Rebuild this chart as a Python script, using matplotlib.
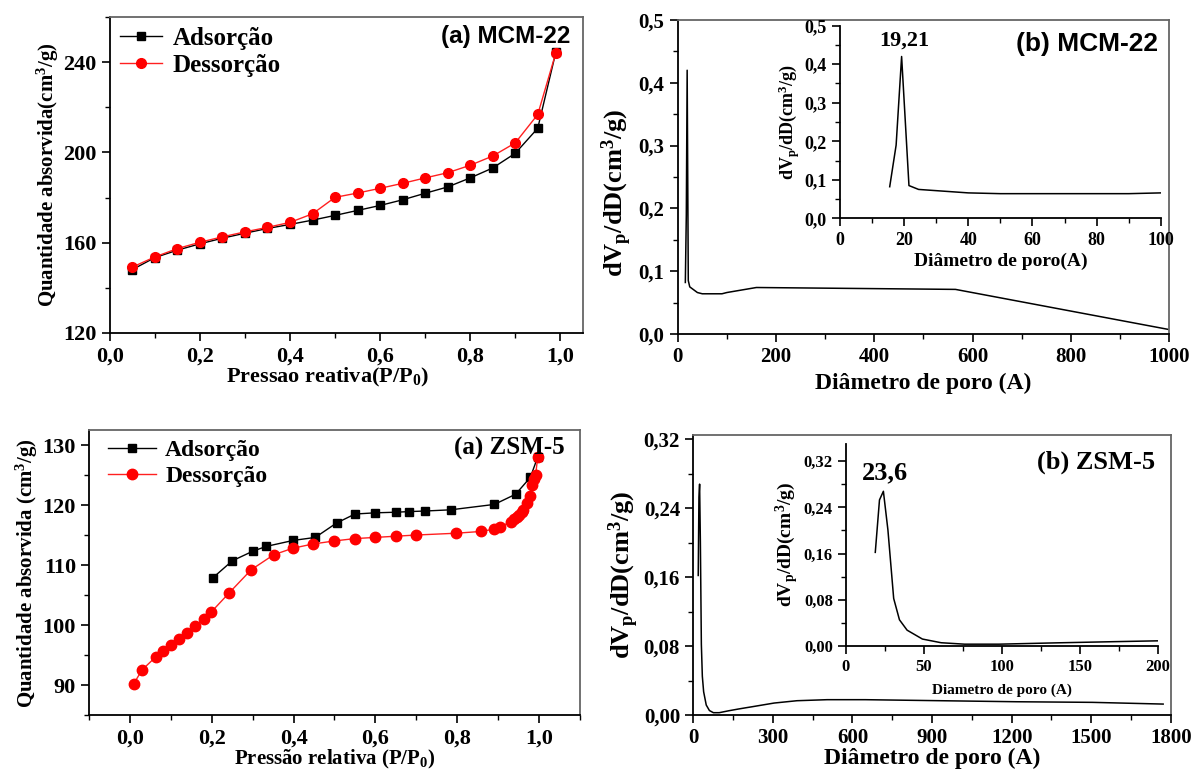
import matplotlib
matplotlib.use('Agg')
import matplotlib.pyplot as plt
from matplotlib.ticker import MultipleLocator, FuncFormatter

plt.rcParams['font.family'] = 'Liberation Serif'
plt.rcParams['font.weight'] = 'bold'
plt.rcParams['axes.labelweight'] = 'bold'
plt.rcParams['mathtext.default'] = 'regular'

# MCM-22 isotherm
mcm_p = [0.05, 0.10, 0.15, 0.20, 0.25, 0.30, 0.35, 0.40, 0.45, 0.50,
         0.55, 0.60, 0.65, 0.70, 0.75, 0.80, 0.85, 0.90, 0.95, 0.99]
mcm_ads = [148.1, 153.4, 156.7, 159.5, 162.0, 164.2, 166.3, 168.1, 170.0, 172.1,
           174.3, 176.5, 179.0, 181.9, 184.7, 188.7, 193.1, 199.6, 210.7, 244.3]
mcm_des = [149.2, 153.7, 157.4, 160.2, 162.6, 164.8, 166.8, 169.0, 172.8, 180.1,
           182.0, 184.1, 186.3, 188.7, 191.0, 194.3, 198.4, 204.2, 216.8, 244.0]

# MCM-22 pore size distribution
mcm_d = [15.5, 17.5, 19.21, 21.5, 24.5, 40, 50, 60, 90, 100, 160, 565, 1000]
mcm_dv = [0.082, 0.19, 0.42, 0.085, 0.075, 0.066, 0.064, 0.064, 0.064, 0.066, 0.074, 0.071, 0.007]

# ZSM-5 isotherm
zsm_p_ads = [0.203, 0.250, 0.300, 0.333, 0.399, 0.453, 0.505, 0.550, 0.600, 0.650,
             0.681, 0.721, 0.784, 0.891, 0.943, 0.979, 0.997]
zsm_ads = [107.9, 110.7, 112.3, 113.1, 114.1, 114.6, 117.0, 118.5, 118.7, 118.8,
           118.9, 119.0, 119.2, 120.1, 121.8, 124.6, 128.0]
zsm_p_des = [0.009, 0.029, 0.063, 0.081, 0.099, 0.120, 0.140, 0.160, 0.180, 0.199,
             0.243, 0.296, 0.351, 0.398, 0.447, 0.498, 0.549, 0.599, 0.650, 0.700,
             0.798, 0.859, 0.891, 0.905, 0.932, 0.939, 0.947, 0.952, 0.958, 0.962,
             0.970, 0.977, 0.984, 0.987, 0.992, 0.997]
zsm_des = [90.2, 92.5, 94.7, 95.6, 96.6, 97.6, 98.7, 99.8, 101.0, 102.2,
           105.4, 109.2, 111.7, 112.8, 113.5, 114.0, 114.4, 114.6, 114.8, 115.0,
           115.3, 115.6, 116.0, 116.4, 117.2, 117.6, 118.0, 118.4, 118.9, 119.1,
           120.4, 121.5, 123.3, 124.4, 125.0, 128.0]

# ZSM-5 pore size distribution
zsm_d = [18.8, 21.5, 24.0, 26.9, 30.6, 34.3, 39.2, 49, 61, 76, 98, 135, 171, 200,
         220, 305, 391, 505, 648, 934, 1219, 1504, 1771]
zsm_dv = [0.162, 0.253, 0.268, 0.201, 0.082, 0.045, 0.027, 0.0116, 0.0052, 0.0027, 0.0027,
          0.005, 0.007, 0.0085, 0.0095, 0.0139, 0.0166, 0.0178, 0.0178, 0.0166, 0.0154,
          0.0147, 0.0127]


def comma(dec):
    return FuncFormatter(lambda v, pos: f'{v:.{dec}f}'.replace('.', ','))


def style(ax, fs, box=True):
    ax.tick_params(which='major', direction='out', length=6, width=1.2, labelsize=fs,
                   top=False, right=False)
    ax.tick_params(which='minor', direction='out', length=3.5, width=1.0,
                   top=False, right=False)
    for s in ['left', 'bottom']:
        ax.spines[s].set_linewidth(1.3)
        ax.spines[s].set_color('black')
    if box:
        for s in ['top', 'right']:
            ax.spines[s].set_linewidth(1.3)
            ax.spines[s].set_color('#666666')
    else:
        ax.spines['top'].set_visible(False)
        ax.spines['right'].set_visible(False)
    for lab in ax.get_xticklabels() + ax.get_yticklabels():
        lab.set_fontweight('bold')


fig = plt.figure(figsize=(11.94, 7.69), dpi=100)

# (a) MCM-22
ax1 = fig.add_axes([0.0920, 0.5670, 0.3961, 0.4109])
ax1.plot(mcm_p, mcm_ads, '-s', color='black', ms=6, lw=1, label='Adsorção')
ax1.plot(mcm_p, mcm_des, '-o', color='#ff2020', mec='red', mfc='red', ms=7, lw=1, label='Dessorção')
ax1.set_xlim(0, 1.05)
ax1.set_ylim(120, 260)
ax1.xaxis.set_major_locator(MultipleLocator(0.2))
ax1.xaxis.set_minor_locator(MultipleLocator(0.1))
ax1.yaxis.set_major_locator(MultipleLocator(40))
ax1.yaxis.set_minor_locator(MultipleLocator(20))
ax1.xaxis.set_major_formatter(comma(1))
ax1.set_xlabel('Pressao reativa(P/P$_0$)', fontsize=16, labelpad=0)
ax1.xaxis.set_label_coords(0.46, -0.105)
ax1.set_ylabel('Quantidade absorvida(cm$^3$/g)', fontsize=15, labelpad=2)
style(ax1, 16)
ax1.legend(loc='upper left', frameon=False, fontsize=18, handlelength=1.7,
           handletextpad=0.4, labelspacing=0.15, borderaxespad=0.1, borderpad=0.3)
ax1.text(0.973, 0.975, '(a) MCM-22', transform=ax1.transAxes, ha='right', va='top',
         fontsize=17.5, fontweight='bold', family='Liberation Sans')

# (b) MCM-22
ax2 = fig.add_axes([0.5676, 0.5657, 0.4117, 0.4083])
ax2.plot(mcm_d, mcm_dv, color='black', lw=1.1)
ax2.set_xlim(0, 1000)
ax2.set_ylim(0, 0.5)
ax2.xaxis.set_major_locator(MultipleLocator(200))
ax2.xaxis.set_minor_locator(MultipleLocator(100))
ax2.yaxis.set_major_locator(MultipleLocator(0.1))
ax2.yaxis.set_minor_locator(MultipleLocator(0.05))
ax2.yaxis.set_major_formatter(comma(1))
ax2.set_xlabel('Diâmetro de poro (A)', fontsize=17, labelpad=4)
ax2.set_ylabel('dV$_p$/dD(cm$^3$/g)', fontsize=19, labelpad=2)
ax2.yaxis.set_label_coords(-0.088, 0.45)
style(ax2, 15)
ax2.text(0.978, 0.962, '(b) MCM-22', transform=ax2.transAxes, ha='right', va='top',
         fontsize=19, fontweight='bold', family='Liberation Sans')

ins1 = fig.add_axes([0.7035, 0.7161, 0.2687, 0.2505])
ins1.set_facecolor('none')
ins1.plot(mcm_d, mcm_dv, color='black', lw=1.1)
ins1.set_xlim(0, 100)
ins1.set_ylim(0, 0.5)
ins1.xaxis.set_major_locator(MultipleLocator(20))
ins1.xaxis.set_minor_locator(MultipleLocator(10))
ins1.yaxis.set_major_locator(MultipleLocator(0.1))
ins1.yaxis.set_minor_locator(MultipleLocator(0.05))
ins1.yaxis.set_major_formatter(comma(1))
ins1.set_xlabel('Diâmetro de poro(A)', fontsize=14, labelpad=3)
ins1.set_ylabel('dV$_p$/dD(cm$^3$/g)', fontsize=13, labelpad=2)
style(ins1, 13, box=False)
ins1.text(20, 0.435, '19,21', ha='center', va='bottom', fontsize=16, fontweight='bold')

# (a) ZSM-5
ax3 = fig.add_axes([0.0747, 0.0702, 0.4109, 0.3706])
ax3.plot(zsm_p_ads, zsm_ads, '-s', color='black', ms=6, lw=1, label='Adsorção')
ax3.plot(zsm_p_des, zsm_des, '-o', color='#ff2020', mec='red', mfc='red', ms=7.5, lw=1, label='Dessorção')
ax3.set_xlim(-0.1, 1.1)
ax3.set_ylim(85, 132.5)
ax3.xaxis.set_major_locator(MultipleLocator(0.2))
ax3.xaxis.set_minor_locator(MultipleLocator(0.1))
ax3.yaxis.set_major_locator(MultipleLocator(10))
ax3.yaxis.set_minor_locator(MultipleLocator(5))
ax3.xaxis.set_major_formatter(comma(1))
ax3.set_xlabel('Pressão relativa (P/P$_0$)', fontsize=15, labelpad=0)
ax3.set_ylabel('Quantidade absorvida (cm$^3$/g)', fontsize=15, labelpad=2)
style(ax3, 16)
ax3.legend(loc='upper left', bbox_to_anchor=(0.02, 1.0), frameon=False, fontsize=17,
           handlelength=2.0, handletextpad=0.4, labelspacing=0.2, borderaxespad=0.1, borderpad=0.3)
ax3.text(0.969, 0.975, '(a) ZSM-5', transform=ax3.transAxes, ha='right', va='top',
         fontsize=18, fontweight='bold')

# (b) ZSM-5
ax4 = fig.add_axes([0.5806, 0.0702, 0.4000, 0.3641])
ax4.plot(zsm_d, zsm_dv, color='black', lw=1.1)
ax4.set_xlim(0, 1800)
ax4.set_ylim(0, 0.325)
ax4.xaxis.set_major_locator(MultipleLocator(300))
ax4.xaxis.set_minor_locator(MultipleLocator(150))
ax4.yaxis.set_major_locator(MultipleLocator(0.08))
ax4.yaxis.set_minor_locator(MultipleLocator(0.04))
ax4.yaxis.set_major_formatter(comma(2))
ax4.set_xlabel('Diâmetro de poro (A)', fontsize=17, labelpad=0)
ax4.set_ylabel('dV$_p$/dD(cm$^3$/g)', fontsize=19, labelpad=2)
style(ax4, 15)
ax4.text(0.967, 0.946, '(b) ZSM-5', transform=ax4.transAxes, ha='right', va='top',
         fontsize=19, fontweight='bold')

ins2 = fig.add_axes([0.7085, 0.1603, 0.2613, 0.2623])
ins2.set_facecolor('none')
ins2.plot(zsm_d, zsm_dv, color='black', lw=1.1)
ins2.set_xlim(0, 200)
ins2.set_ylim(0, 0.35)
ins2.xaxis.set_major_locator(MultipleLocator(50))
ins2.xaxis.set_minor_locator(MultipleLocator(25))
ins2.yaxis.set_major_locator(MultipleLocator(0.08))
ins2.yaxis.set_minor_locator(MultipleLocator(0.04))
ins2.yaxis.set_major_formatter(comma(2))
ins2.set_xlabel('Diametro de poro (A)', fontsize=11, labelpad=6)
ins2.set_ylabel('dV$_p$/dD(cm$^3$/g)', fontsize=14, labelpad=2)
style(ins2, 12, box=False)
ins2.text(25, 0.28, '23,6', ha='center', va='bottom', fontsize=19, fontweight='bold')

fig.savefig('out.png', dpi=100)
